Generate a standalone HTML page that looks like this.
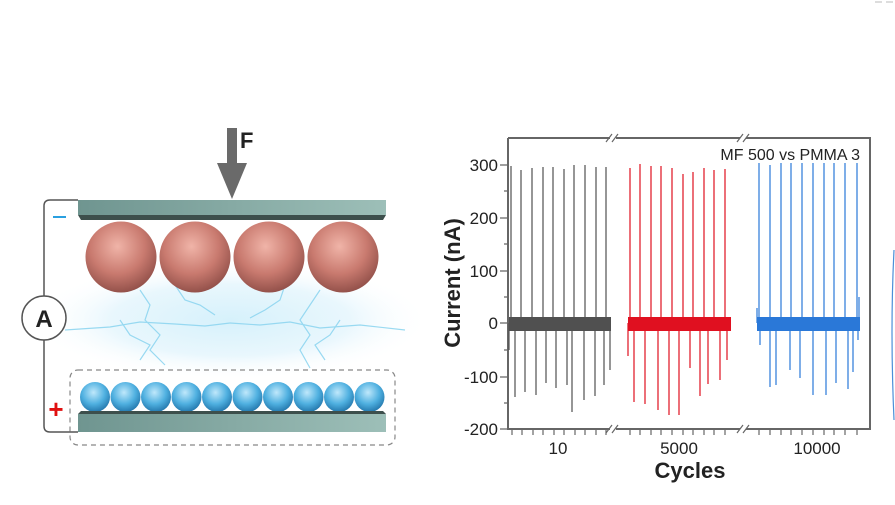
<!DOCTYPE html>
<html><head><meta charset="utf-8"><style>
html,body{margin:0;padding:0;background:#fff;}
svg{display:block;font-family:"Liberation Sans",sans-serif;}
</style></head><body>
<svg width="895" height="505" viewBox="0 0 895 505" xmlns="http://www.w3.org/2000/svg">
<defs>
<radialGradient id="rs" cx="0.45" cy="0.35" r="0.7">
<stop offset="0" stop-color="#f0b4a8"/><stop offset="0.55" stop-color="#c97a6f"/><stop offset="1" stop-color="#8a4a44"/></radialGradient>
<radialGradient id="bs" cx="0.45" cy="0.35" r="0.7">
<stop offset="0" stop-color="#bfe8fb"/><stop offset="0.55" stop-color="#4fb0e0"/><stop offset="1" stop-color="#1d6fa5"/></radialGradient>
<linearGradient id="pl" x1="0" x2="1"><stop offset="0" stop-color="#6f9590"/><stop offset="1" stop-color="#9dbfb8"/></linearGradient>
<radialGradient id="glow" cx="0.5" cy="0.5" r="0.5">
<stop offset="0" stop-color="#d6f1fb"/><stop offset="0.6" stop-color="#e9f7fd"/><stop offset="1" stop-color="#ffffff" stop-opacity="0"/></radialGradient>
</defs>
<rect width="895" height="505" fill="#fff"/>
<ellipse cx="230" cy="320" rx="200" ry="60" fill="url(#glow)"/>
<g stroke="#8fd6f0" stroke-width="1.2" fill="none" opacity="0.9">
<path d="M65 330 L110 327 L140 322 L175 324 L205 326 L230 323"/>
<path d="M230 323 L260 325 L290 322 L320 328 L360 325 L405 330"/>
<path d="M140 290 L150 305 L145 320 L160 335 L150 350 L165 365"/>
<path d="M175 285 L185 300 L200 305 L215 315"/>
<path d="M285 285 L280 300 L265 310 L250 318"/>
<path d="M320 290 L310 305 L300 320 L310 335 L300 350 L310 368"/>
<path d="M120 320 L130 335 L150 345 L140 360"/>
<path d="M340 320 L330 335 L315 345 L325 360"/>
</g>
<path d="M78 200 L50 200 Q44 200 44 206 L44 426 Q44 432 50 432 L78 432" fill="none" stroke="#555" stroke-width="1.5"/>
<circle cx="44" cy="318" r="22" fill="#fff" stroke="#555" stroke-width="1.5"/>
<text x="44" y="327" text-anchor="middle" font-size="24" font-weight="bold" fill="#222">A</text>
<line x1="53" y1="217" x2="66" y2="217" stroke="#2aa0e0" stroke-width="2"/>
<text x="56" y="418" text-anchor="middle" font-size="26" font-weight="bold" fill="#e01010">+</text>
<rect x="78" y="200" width="308" height="15" fill="url(#pl)"/>
<polygon points="78,215 386,215 383,220 81,220" fill="#3d4f4c"/>
<circle cx="121" cy="257" r="35.5" fill="url(#rs)"/>
<circle cx="195" cy="257" r="35.5" fill="url(#rs)"/>
<circle cx="269" cy="257" r="35.5" fill="url(#rs)"/>
<circle cx="343" cy="257" r="35.5" fill="url(#rs)"/>
<rect x="227" y="128" width="10" height="40" fill="#6a6a6a"/>
<polygon points="217,163 247,163 232,199" fill="#6a6a6a"/>
<text x="240" y="148" font-size="22" font-weight="bold" fill="#222">F</text>
<rect x="70" y="370" width="325" height="75" rx="8" fill="none" stroke="#888" stroke-width="1.2" stroke-dasharray="5,4"/>
<g fill="url(#bs)">
<circle cx="95" cy="397" r="15"/><circle cx="125.5" cy="397" r="15"/><circle cx="156" cy="397" r="15"/><circle cx="186.5" cy="397" r="15"/><circle cx="217" cy="397" r="15"/><circle cx="247.5" cy="397" r="15"/><circle cx="278" cy="397" r="15"/><circle cx="308.5" cy="397" r="15"/><circle cx="339" cy="397" r="15"/><circle cx="369.5" cy="397" r="15"/>
</g>
<polygon points="81,411 383,411 386,414 78,414" fill="#3d4f4c"/>
<rect x="78" y="414" width="308" height="18" fill="url(#pl)"/>

<g stroke="#666" stroke-width="2" fill="none">
<path d="M508 138 L610 138 M616 138 L740 138 M746 138 L870 138 L870 429 L746 429 M740 429 L616 429 M610 429 L508 429 L508 138"/>
</g>
<g stroke="#666" stroke-width="1.2">
<path d="M606 142 L612 134 M612 142 L618 134 M737 142 L743 134 M743 142 L749 134"/>
<path d="M606 433 L612 425 M612 433 L618 425 M737 433 L743 425 M743 433 L749 425"/>
<path d="M500 165 L508 165 M500 218 L508 218 M500 271 L508 271 M500 323 L508 323 M500 377 L508 377 M500 429 L508 429"/>
<path d="M504 191 L508 191 M504 244 L508 244 M504 297 L508 297 M504 350 L508 350 M504 403 L508 403"/>
<path d="M512 429v6M522 429v6M533 429v6M543 429v6M554 429v6M564 429v6M575 429v6M585 429v6M596 429v6M606 429v6 M630 429v6M640 429v6M651 429v6M661 429v6M672 429v6M683 429v6M693 429v6M704 429v6M714 429v6M725 429v6 M759 429v6M770 429v6M781 429v6M791 429v6M802 429v6M813 429v6M824 429v6M834 429v6M845 429v6M857 429v6"/>
</g>
<g font-size="17" fill="#222" text-anchor="end">
<text x="498" y="171">300</text><text x="498" y="224">200</text><text x="498" y="277">100</text><text x="498" y="329">0</text><text x="498" y="383">-100</text><text x="498" y="435">-200</text>
</g>
<g font-size="17" fill="#222" text-anchor="middle">
<text x="558" y="454">10</text><text x="679" y="454">5000</text><text x="817" y="454">10000</text>
</g>
<text x="690" y="478" font-size="22" font-weight="bold" text-anchor="middle" fill="#222">Cycles</text>
<text transform="translate(460,283) rotate(-90)" font-size="22" font-weight="bold" text-anchor="middle" fill="#222">Current (nA)</text>
<text x="860" y="160" font-size="16" text-anchor="end" fill="#222">MF 500 vs PMMA 3</text>

<g stroke="#505050" stroke-width="1.2">
<rect x="509" y="317" width="102" height="14" fill="#505050" stroke="none"/>
<path d="M511 323V166M521 323V170M532 323V168M543 323V167M553 323V167M564 323V169M574 323V165M585 323V165M596 323V167M606 323V167"/>
<path d="M515 323V397M525 323V392M536 323V395M546 323V383M556 323V388M567 323V385M572 323V412M584 323V400M595 323V396M604 323V385M610 323V370M509 323V350"/>
</g>
<g stroke="#e01020" stroke-width="1.2">
<rect x="628" y="317" width="103" height="14" fill="#e01020" stroke="none"/>
<path d="M630 323V168M640 323V164M651 323V166M661 323V166M672 323V168M683 323V174M693 323V172M704 323V168M714 323V170M725 323V169"/>
<path d="M634 323V402M645 323V404M658 323V410M669 323V415M679 323V415M690 323V368M700 323V396M708 323V384M720 323V380M727 323V360M628 323V356"/>
</g>
<g stroke="#2a78d8" stroke-width="1.2">
<rect x="757" y="317" width="103" height="14" fill="#2a78d8" stroke="none"/>
<path d="M759 323V163M770 323V165M781 323V163M791 323V163M802 323V163M813 323V163M824 323V163M834 323V163M845 323V163M857 323V163M859 323V297M757 323V308"/>
<path d="M760 323V345M770 323V387M776 323V385M790 323V370M800 323V378M813 323V395M826 323V395M836 323V383M848 323V389M853 323V372M858 323V340"/>
</g>
<path d="M894 250 Q890 330 894 420" stroke="#4a8fd8" stroke-width="1.2" fill="none"/>
<path d="M875 2h7M886 2h7" stroke="#bbb" stroke-width="1"/>
</svg>
</body></html>
